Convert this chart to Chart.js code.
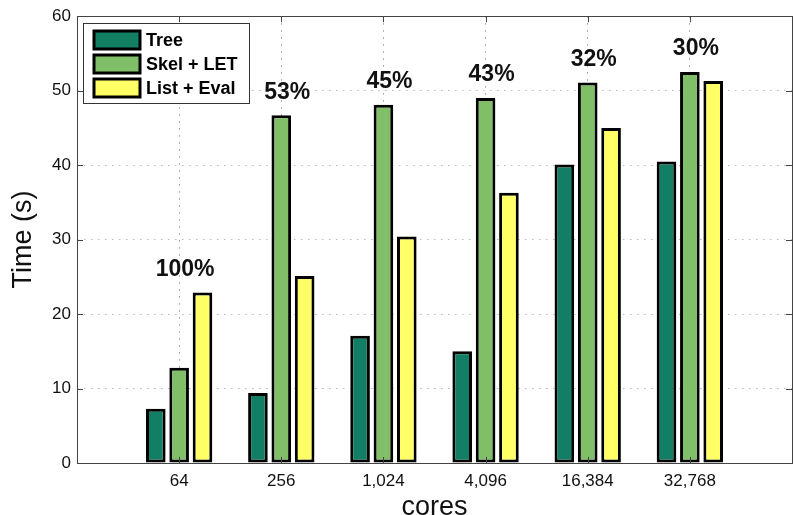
<!DOCTYPE html>
<html>
<head>
<meta charset="utf-8">
<script src="https://cdn.jsdelivr.net/npm/chart.js@4/dist/chart.umd.min.js"></script>
<style>
html,body{margin:0;padding:0;background:#fff;overflow:hidden;}
#wrap{width:800px;height:515px;}
</style>
</head>
<body>
<div id="wrap"><canvas id="barChart" width="800" height="515"></canvas></div>
<script>

/* DATA */

const cores = ["64","256","1,024","4,096","16,384","32,768"]
const treeTime = [7.3, 9.4, 17.1, 15.0, 40.1, 40.5]
const skelLetTime = [12.8, 46.7, 48.1, 49.0, 51.1, 52.5]
const listEvalTime = [22.9, 25.1, 30.4, 36.3, 45.0, 51.3]
const percentLabels = ["100%","53%","45%","43%","32%","30%"]
const yTicks = [0, 10, 20, 30, 40, 50, 60]

// blank slots at both ends so the axis runs from 0 to 7
const axisLabels = [""].concat(cores, [""])
const pad = arr => [null].concat(arr, [null])

Chart.defaults.font.family = "'Liberation Sans', Arial, Helvetica, sans-serif"
Chart.defaults.color = "#111"

const frameColor = "#444"

/* legend, frame, inward ticks and percentage labels */

const extras = {
id: "extras",
afterDraw(chart){

const ctx = chart.ctx
const a = chart.chartArea
const xs = chart.scales.x
const ys = chart.scales.y

ctx.save()

// frame
ctx.strokeStyle = frameColor
ctx.lineWidth = 1
ctx.strokeRect(Math.round(a.left)+0.5, Math.round(a.top)+0.5, Math.round(a.right-a.left), Math.round(a.bottom-a.top))

// inward tick marks
ctx.beginPath()
yTicks.forEach(v=>{
const y = Math.round(ys.getPixelForValue(v))+0.5
ctx.moveTo(a.left, y); ctx.lineTo(a.left+6, y)
ctx.moveTo(a.right, y); ctx.lineTo(a.right-6, y)
})
cores.forEach((c,i)=>{
const x = Math.round(xs.getPixelForValue(i+1))+0.5
ctx.moveTo(x, a.bottom); ctx.lineTo(x, a.bottom-6)
ctx.moveTo(x, a.top); ctx.lineTo(x, a.top+6)
})
ctx.stroke()

// percentage labels above each group
ctx.font = "bold 23px 'Liberation Sans', Arial, sans-serif"
ctx.fillStyle = "#111"
ctx.textAlign = "center"
ctx.textBaseline = "middle"
percentLabels.forEach((t,i)=>{
const top = Math.max(treeTime[i], skelLetTime[i], listEvalTime[i])
ctx.fillText(t, xs.getPixelForValue(i+1)+6, ys.getPixelForValue(top)-23)
})

// legend box
const lx = 83, ly = 23, lw = 166, lh = 80
ctx.fillStyle = "#fff"
ctx.fillRect(lx, ly, lw, lh)
ctx.strokeStyle = "#333"
ctx.lineWidth = 1
ctx.strokeRect(lx+0.5, ly+0.5, lw, lh)

ctx.font = "bold 18px 'Liberation Sans', Arial, sans-serif"
ctx.textAlign = "left"
chart.data.datasets.forEach((ds,i)=>{
const cy = 40 + i*24
ctx.fillStyle = ds.backgroundColor
ctx.fillRect(94, cy-9, 46, 18)
ctx.strokeStyle = "#000"
ctx.lineWidth = 3
ctx.strokeRect(94, cy-9, 46, 18)
ctx.fillStyle = "#000"
ctx.fillText(ds.label, 146, cy+1)
})

ctx.restore()

}
}

/* CHART */

new Chart(document.getElementById("barChart"),{

type:"bar",

data:{
labels:axisLabels,
datasets:[
{label:"Tree", data:pad(treeTime), backgroundColor:"#127f64"},
{label:"Skel + LET", data:pad(skelLetTime), backgroundColor:"#80bf67"},
{label:"List + Eval", data:pad(listEvalTime), backgroundColor:"#ffff66"}
]
},

options:{
responsive:false,
animation:false,
devicePixelRatio:1,
layout:{padding:{left:0,top:15,right:3,bottom:0}},
datasets:{
bar:{
borderColor:"#000",
borderWidth:3,
borderSkipped:false,
categoryPercentage:0.686,
barPercentage:0.84
}
},
plugins:{
legend:{display:false},
tooltip:{enabled:false}
},
scales:{
x:{
type:"category",
offset:false,
z:1,
grid:{
offset:false,
drawTicks:false,
color:c=>(c.index===0||c.index===axisLabels.length-1)?"rgba(0,0,0,0)":"#999"
},
border:{display:false,dash:[1.5,5.5]},
ticks:{padding:8,font:{size:17},color:"#111",maxRotation:0,autoSkip:false},
title:{display:true,text:"cores",font:{size:27,lineHeight:0.55},padding:{top:0,bottom:0},color:"#111"},
afterFit:s=>{s.height=52}
},
y:{
min:0,
max:60,
grid:{drawTicks:false,color:"#bbb"},
border:{display:false,dash:[1.5,5.5]},
ticks:{stepSize:10,padding:6,font:{size:17},color:"#111"},
title:{display:true,text:"Time (s)",font:{size:27},padding:{top:7,bottom:0},color:"#111"},
afterFit:s=>{s.width=77}
}
}
},

plugins:[extras]

})

</script>
</body>
</html>
